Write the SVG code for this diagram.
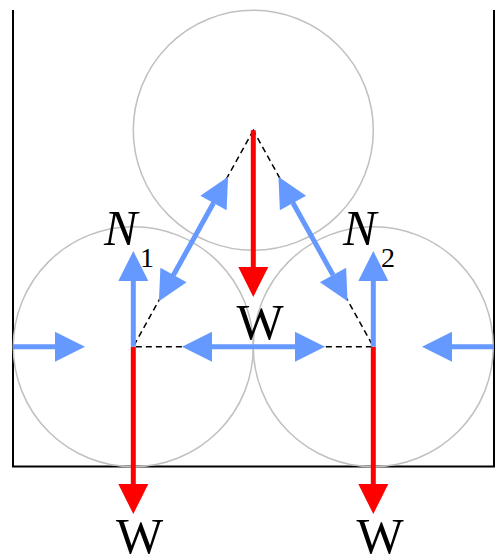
<svg xmlns="http://www.w3.org/2000/svg" width="496" height="556" viewBox="0 0 496 556">
  <style>
    .ball { fill: none; stroke: #c0c0c0; stroke-width: 1.5; }
    .wall { fill: none; stroke: #000; stroke-width: 2; }
    .dash { fill: none; stroke: #000; stroke-width: 1.5; stroke-dasharray: 6 4; }
    .blue { fill: none; stroke: #6699ff; stroke-width: 5; }
    .red { fill: none; stroke: #ff0000; stroke-width: 5; }
    .lbl { font-family: "Liberation Serif", "Times New Roman", serif; fill: #000; }
    .w { font-size: 50px; text-anchor: middle; }
    .n { font-size: 50px; font-style: italic; }
    .sub { font-size: 28px; }
  </style>
  <defs>
    <marker id="ab" markerUnits="userSpaceOnUse" markerWidth="30" markerHeight="30" refX="0" refY="15" orient="auto-start-reverse" overflow="visible">
      <path d="M0,0 L30,15 L0,30 Z" fill="#6699ff"/>
    </marker>
    <marker id="ar" markerUnits="userSpaceOnUse" markerWidth="30" markerHeight="30" refX="0" refY="15" orient="auto-start-reverse" overflow="visible">
      <path d="M0,0 L30,15 L0,30 Z" fill="#ff0000"/>
    </marker>
  </defs>

  <g id="container">
    <path class="wall" d="M13,10 L13,466.5 L494,466.5 L494,10"/>
  </g>

  <g id="ball-top">
    <circle class="ball" cx="253.3" cy="130.3" r="120"/>
  </g>
  <g id="ball-left">
    <circle class="ball" cx="133.3" cy="346.7" r="120"/>
  </g>
  <g id="ball-right">
    <circle class="ball" cx="373.3" cy="346.7" r="120"/>
  </g>

  <g id="connectors">
    <path class="dash" d="M253.3,130.3 L133.3,346.7 L373.3,346.7 Z"/>
    <!-- weights -->
    <path class="red" d="M253.3,130.3 L253.3,267" marker-end="url(#ar)"/>
    <path class="red" d="M133.3,346.7 L133.3,484" marker-end="url(#ar)"/>
    <path class="red" d="M373.3,346.7 L373.3,484" marker-end="url(#ar)"/>
    <!-- normal forces -->
    <path class="blue" d="M133.3,346.7 L133.3,281" marker-end="url(#ab)"/>
    <path class="blue" d="M373.3,346.7 L373.3,281" marker-end="url(#ab)"/>
    <path class="blue" d="M13,346.7 L55,346.7" marker-end="url(#ab)"/>
    <path class="blue" d="M494,346.7 L452,346.7" marker-end="url(#ab)"/>
    <path class="blue" d="M212,346.7 L295,346.7" marker-start="url(#ab)" marker-end="url(#ab)"/>
    <path class="blue" d="M213.5,203 L173.5,275" marker-start="url(#ab)" marker-end="url(#ab)"/>
    <path class="blue" d="M293,203 L333,275" marker-start="url(#ab)" marker-end="url(#ab)"/>
  </g>

  <g id="labels">
    <text class="lbl n" x="104" y="245">N</text>
    <text class="lbl sub" x="140" y="267">1</text>
    <text class="lbl n" x="343" y="245">N</text>
    <text class="lbl sub" x="381" y="267">2</text>
    <text class="lbl w" x="260" y="339">W</text>
    <text class="lbl w" x="139.5" y="553">W</text>
    <text class="lbl w" x="380" y="553">W</text>
  </g>
</svg>
